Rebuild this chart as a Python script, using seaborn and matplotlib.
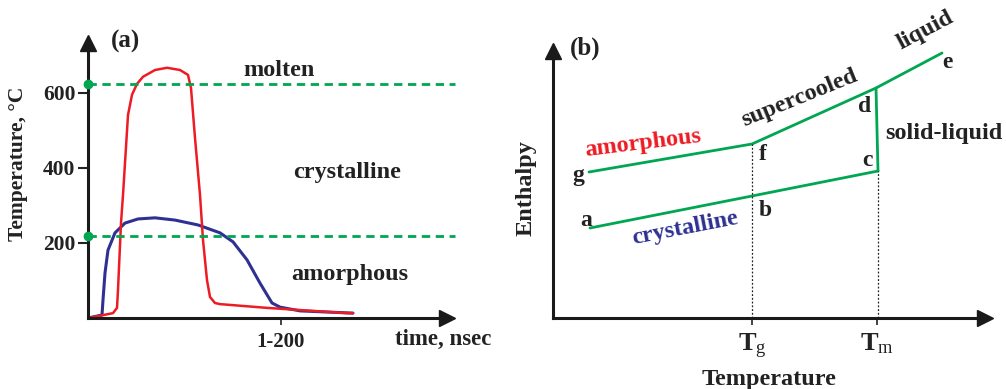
import numpy as np
import pandas as pd
import matplotlib
matplotlib.use("Agg")
import matplotlib.pyplot as plt
import seaborn as sns

# ---------------- data: panel (a) ----------------
t_red = [0, 10, 25, 29, 30, 33, 35, 40, 44, 49, 55, 67, 79, 92, 100, 103, 107, 112,
         115, 119, 122, 127, 132, 179, 259, 265]
T_red = [0, 5, 13, 27, 75, 253, 328, 541, 595, 624, 643, 661, 667, 661, 648, 613, 480,
         328, 208, 101, 56, 40, 37, 27, 13, 13]
t_blue = [0, 14, 15, 17, 20, 27, 37, 50, 67, 87, 110, 132, 145, 159, 172, 184, 192, 212, 265]
T_blue = [0, 8, 48, 120, 181, 227, 253, 264, 267, 261, 248, 227, 203, 155, 93, 40, 29, 19, 13]
T_melt_line = 624
T_cryst_line = 219
a_yticks = [200, 400, 600]
a_xtick = [193]
a_xtick_labels = ["1-200"]

# ---------------- data: panel (b) ----------------
amorph_T = [36, 199, 323, 389]      # g, f, d, e
amorph_H = [146, 174, 230, 265]
cryst_T = [37, 199, 325]            # a, b, c
cryst_H = [90, 122, 147]
melt_T = [323, 325]                 # d -> c
melt_H = [230, 147]
Tg = 199
Tm = 324
b_xtick_labels = [r"$\mathbf{T}_{\mathrm{g}}$", r"$\mathbf{T}_{\mathrm{m}}$"]

RED = "#ED1C24"
BLUE = "#2E3192"
GREEN = "#00A651"
INK = "#222222"

sns.set_theme(style="white")
plt.rcParams["font.family"] = ["Liberation Serif", "DejaVu Serif"]
plt.rcParams["mathtext.fontset"] = "custom"
plt.rcParams["mathtext.rm"] = "Liberation Serif"
plt.rcParams["mathtext.bf"] = "Liberation Serif:bold"
plt.rcParams["mathtext.it"] = "Liberation Serif:italic"

W, H = 1006, 389
fig = plt.figure(figsize=(W / 100, H / 100), dpi=100)


def px_axes(l, r, b, t):
    return fig.add_axes([l / W, 1 - b / H, (r - l) / W, (b - t) / H])


def style_axes(ax):
    for s in ["top", "right"]:
        ax.spines[s].set_visible(False)
    for s in ["left", "bottom"]:
        ax.spines[s].set_linewidth(2.2)
        ax.spines[s].set_color("#1a1a1a")
    ax.plot(1, 0, ">", color="#1a1a1a", markersize=12, transform=ax.transAxes, clip_on=False)
    ax.plot(0, 1, "^", color="#1a1a1a", markersize=12, transform=ax.transAxes, clip_on=False)
    ax.set_facecolor("none")


# ---------------- panel (a) ----------------
axa = px_axes(88, 447, 318, 43)
style_axes(axa)
axa.set_xlim(0, 359)
axa.set_ylim(0, 733)

df_r = pd.DataFrame({"t": t_red, "T": T_red})
df_b = pd.DataFrame({"t": t_blue, "T": T_blue})
sns.lineplot(data=df_b, x="t", y="T", sort=False, color=BLUE, lw=2.2, ax=axa)
sns.lineplot(data=df_r, x="t", y="T", sort=False, color=RED, lw=1.8, ax=axa)

for yv in [T_melt_line, T_cryst_line]:
    axa.plot([0, 367], [yv, yv], ls=(0, (3, 2)), color=GREEN, lw=2, clip_on=False)
    axa.plot([0], [yv], "o", color=GREEN, markersize=6, clip_on=False, zorder=5)

axa.set_yticks(a_yticks)
axa.set_yticklabels([str(v) for v in a_yticks], fontsize=15.5, fontweight="bold", color=INK)
axa.set_xticks(a_xtick)
axa.set_xticklabels(a_xtick_labels, fontsize=15, fontweight="bold", color=INK)
axa.tick_params(axis="y", direction="out", length=7, width=1.5, color=INK, left=True, pad=2)
axa.tick_params(axis="x", direction="out", length=5, width=1.2, color=INK, bottom=True, pad=5)
axa.set_xlabel("")
axa.set_ylabel("Temperature, °C", fontsize=15.5, fontweight="bold", color=INK)
axa.yaxis.set_label_coords(-0.167, 0.56)
axa.text(395 - 88, -21 / 0.375, "time, nsec", fontsize=16.5, fontweight="bold", color=INK,
         ha="left", va="center", clip_on=False)
axa.text(37, 738, "(a)", fontsize=18, fontweight="bold", color=INK, ha="center", va="center")
axa.text(191, 661, "molten", fontsize=17.5, fontweight="bold", color=INK, ha="center", va="center")
axa.text(259, 387, "crystalline", fontsize=17.5, fontweight="bold", color=INK, ha="center", va="center")
axa.text(262, 117, "amorphous", fontsize=17.5, fontweight="bold", color=INK, ha="center", va="center")

# ---------------- panel (b) ----------------
axb = px_axes(553, 985, 318, 51)
style_axes(axb)
axb.set_xlim(0, 432)
axb.set_ylim(0, 267)

df_am = pd.DataFrame({"T": amorph_T, "H": amorph_H})
df_cr = pd.DataFrame({"T": cryst_T, "H": cryst_H})
df_m = pd.DataFrame({"T": melt_T, "H": melt_H})
for d in [df_am, df_cr, df_m]:
    sns.lineplot(data=d, x="T", y="H", sort=False, color=GREEN, lw=2, ax=axb)

axb.plot([Tg, Tg], [0, amorph_H[1]], ls=(0, (1.5, 1.5)), color=INK, lw=0.9)
axb.plot([Tm + 1, Tm + 1], [0, cryst_H[2]], ls=(0, (1.5, 1.5)), color=INK, lw=0.9)

axb.set_xticks([Tg, Tm])
axb.set_xticklabels(b_xtick_labels, fontsize=19, color=INK)
axb.set_yticks([])
axb.tick_params(axis="x", direction="out", length=5, width=1.2, color=INK, bottom=True, pad=5)
axb.set_xlabel("Temperature", fontsize=17.5, fontweight="bold", color=INK, labelpad=6)
axb.set_ylabel("Enthalpy", fontsize=17.5, fontweight="bold", color=INK)
axb.yaxis.set_label_coords(-0.037, 0.487)

lab = dict(fontsize=17, fontweight="bold", color=INK, ha="center", va="center")
axb.text(25, 143, "g", **lab)
axb.text(33, 97, "a", **lab)
axb.text(210, 164, "f", **lab)
axb.text(212, 108, "b", **lab)
axb.text(314, 158, "c", **lab)
axb.text(312, 212, "d", **lab)
axb.text(394, 256, "e", **lab)
axb.text(90, 175, "amorphous", fontsize=17.5, fontweight="bold", color=RED, ha="center",
         va="center", rotation=7)
axb.text(132, 90, "crystalline", fontsize=17.5, fontweight="bold", color=BLUE, ha="center",
         va="center", rotation=11)
axb.text(247, 220, "supercooled", fontsize=17.5, fontweight="bold", color=INK, ha="center",
         va="center", rotation=22)
axb.text(372, 288, "liquid", fontsize=17.5, fontweight="bold", color=INK, ha="center",
         va="center", rotation=28)
axb.text(332, 185, "solid-liquid", fontsize=17.5, fontweight="bold", color=INK, ha="left",
         va="center")
axb.text(32, 270, "(b)", fontsize=18, fontweight="bold", color=INK, ha="center", va="center")

fig.savefig("out.png", dpi=100)
